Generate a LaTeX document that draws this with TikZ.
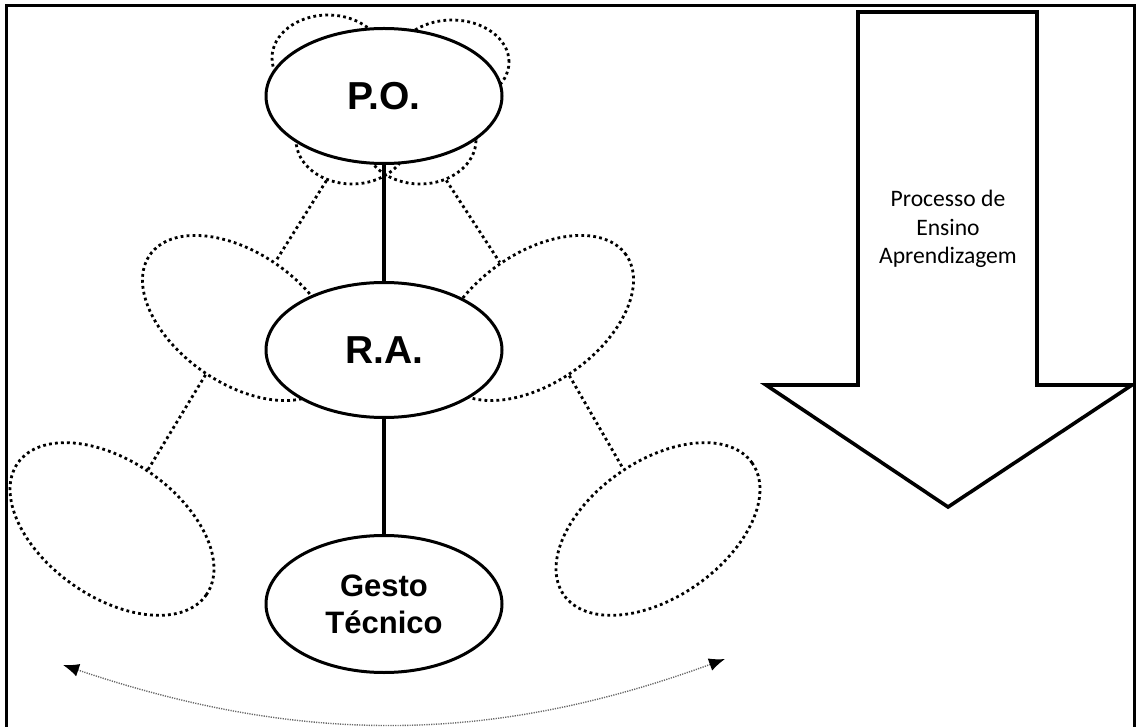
\documentclass[tikz,border=0pt]{standalone}
\usepackage{fontspec}
\setmainfont{Liberation Sans}
\newfontfamily\carlito{Carlito}
\usetikzlibrary{shapes.geometric,arrows.meta,positioning}

\tikzset{
  main/.style={ellipse,draw,fill=white,line width=1.5pt,minimum width=118pt,minimum height=67.5pt,
    inner sep=0pt,align=center,font=\fontsize{19.5}{22}\selectfont\bfseries},
  petal/.style={ellipse,draw,line width=1.4pt,dash pattern=on 1.4pt off 1.6pt,inner sep=0pt},
  link/.style={line width=2pt},
  dotlink/.style={line width=1.4pt,dash pattern=on 1.4pt off 1.6pt},
  swing/.style={{Latex[length=8pt,width=6.5pt,color=black]}-{Latex[length=8pt,width=6.5pt,color=black]},
    gray!80!black,line width=0.7pt,dash pattern=on 0.6pt off 0.6pt}
}

\begin{document}
\begin{tikzpicture}[x=0.5pt,y=-0.5pt]
\useasboundingbox (0,0) rectangle (1136,727);
% frame
\draw[line width=1.5pt] (6,740) -- (6,6) -- (1134,6) -- (1134,740);

% petals round P.O.
\node[petal,minimum width=56pt,minimum height=43pt] (ptl) at (328,58) {};
\node[petal,minimum width=57pt,minimum height=42pt] (ptr) at (452,62) {};
\node[petal,minimum width=56pt,minimum height=44pt] (pbl) at (352,140) {};
\node[petal,minimum width=56pt,minimum height=44pt] (pbr) at (420,140) {};

% side ellipses
\node[petal,minimum width=110pt,minimum height=65pt,rotate=-35] (ml) at (240,318) {};
\node[petal,minimum width=110pt,minimum height=65pt,rotate=35]  (mr) at (536,318) {};
\node[petal,minimum width=115pt,minimum height=68pt,rotate=-35] (ll) at (112,529) {};
\node[petal,minimum width=115pt,minimum height=68pt,rotate=35]  (lr) at (658,529) {};

\path[dotlink] (pbl) edge (ml)
               (pbr) edge (mr)
               (ml)  edge (ll)
               (mr)  edge (lr);

% main column
\node[main] (PO) at (384,96) {P.O.};
\node[main] (RA) [below=58pt of PO] {R.A.};
\node[main,minimum height=68.5pt,font=\fontsize{15.5}{18.5}\selectfont\bfseries] (GT) [below=57.5pt of RA] {Gesto\\Técnico};

\path[link] (PO) edge (RA)
            (RA) edge (GT);

% big arrow
\draw[line width=1.8pt,fill=white] (858,12) -- (1037,12) -- (1037,385) -- (1132,385)
  -- (948,507) -- (766,385) -- (858,385) -- cycle;
\node[font=\carlito\fontsize{11.8}{14.4}\selectfont,align=center] (pea) at (948,229) {Processo de\\Ensino\\Aprendizagem};

% swing arrow
\coordinate (swl) at (63,665);
\coordinate (swr) at (725,659);
\draw[swing] (swl) .. controls (300,745) and (490,745) .. (swr);
\end{tikzpicture}
\end{document}
